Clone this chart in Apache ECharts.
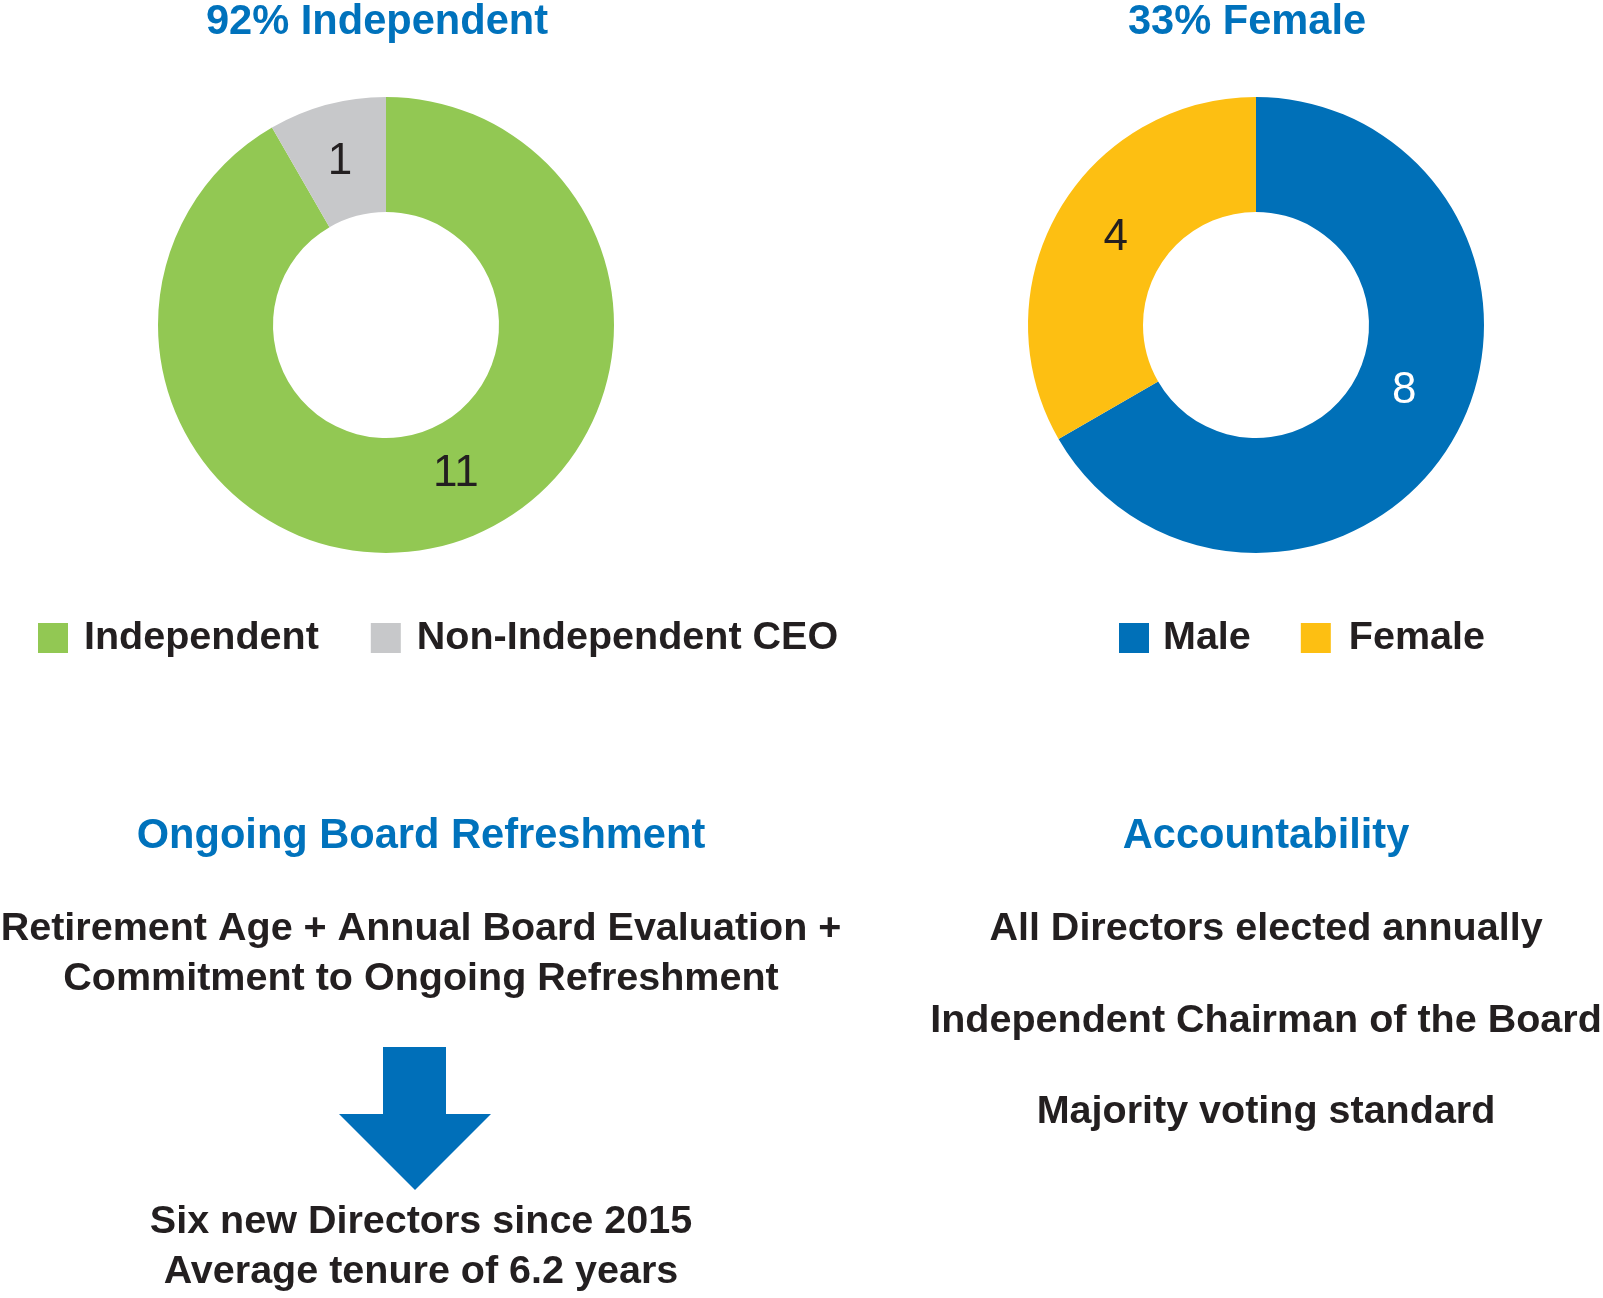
<!DOCTYPE html>
<html>
<head>
<meta charset="utf-8">
<style>
html,body{margin:0;padding:0;background:#fff;}
#main{width:1603px;height:1298px;}
</style>
<script src="https://cdn.jsdelivr.net/npm/echarts@6/dist/echarts.min.js"></script>
</head>
<body>
<div id="main"></div>
<script>
// ---- data ----
var independenceCategories = ['Independent', 'Non-Independent CEO'];
var independenceValues = [11, 1];
var genderCategories = ['Male', 'Female'];
var genderValues = [8, 4];
var chartTitles = ['92% Independent', '33% Female'];
var refreshmentHeading = 'Ongoing Board Refreshment';
var refreshmentLines = ['Retirement Age + Annual Board Evaluation +', 'Commitment to Ongoing Refreshment'];
var refreshmentResults = ['Six new Directors since 2015', 'Average tenure of 6.2 years'];
var accountabilityHeading = 'Accountability';
var accountabilityLines = ['All Directors elected annually', 'Independent Chairman of the Board', 'Majority voting standard'];

// ---- styles ----
var FONT = "'Liberation Sans', Arial, Helvetica, sans-serif";
var BLUE_TEXT = '#0072bc';
var DARK = '#231f20';
var independenceColors = ['#92c853', '#c7c8ca'];
var genderColors = ['#0070b8', '#fdbf12'];
var labelColors = [[DARK, DARK], ['#ffffff', DARK]];
var labelShift = [[[25, -19], [-1, 4]], [[-2, -21], [10, 0]]];
var legendPads = [[11, 11], [9, 13]];

function buildData(names, values, colors, sIdx) {
  return names.map(function (n, i) {
    return {
      name: n,
      value: values[i],
      itemStyle: { color: colors[i], borderWidth: 0 },
      label: { color: labelColors[sIdx][i] }
    };
  });
}

function pieSeries(names, values, colors, center, sIdx) {
  return {
    type: 'pie',
    center: center,
    radius: [113, 228],
    startAngle: 90,
    clockwise: true,
    avoidLabelOverlap: false,
    silent: true,
    animation: false,
    label: {
      show: true,
      position: 'inside',
      formatter: '{c}',
      fontFamily: FONT,
      fontSize: 44,
      fontWeight: 'normal'
    },
    labelLine: { show: false },
    labelLayout: function (p) {
      var s = labelShift[sIdx][p.dataIndex];
      return { dx: s[0], dy: s[1] };
    },
    emphasis: { disabled: true },
    data: buildData(names, values, colors, sIdx)
  };
}

function txt(x, y, s, size, color) {
  return {
    type: 'text',
    x: x, y: y,
    silent: true,
    style: {
      text: s,
      x: 0, y: 0,
      align: 'center',
      verticalAlign: 'middle',
      fontFamily: FONT,
      fontWeight: 'bold',
      fontSize: size,
      fill: color
    }
  };
}

function legendText(padLeft) {
  return {
    fontFamily: FONT, fontSize: 39.5, fontWeight: 'bold', color: DARK,
    padding: [0, 0, 0, padLeft]
  };
}

function legendData(names, lIdx) {
  return names.map(function (n, i) {
    return { name: n, textStyle: legendText(legendPads[lIdx][i]) };
  });
}

var HEAD = 41.6, BODY = 39.5;
var graphics = [
  txt(377, 23, chartTitles[0], HEAD, BLUE_TEXT),
  txt(1247, 23, chartTitles[1], HEAD, BLUE_TEXT),
  txt(421, 837, refreshmentHeading, HEAD, BLUE_TEXT),
  txt(1266, 837, accountabilityHeading, HEAD, BLUE_TEXT),
  txt(421, 929, refreshmentLines[0], BODY, DARK),
  txt(421, 979, refreshmentLines[1], BODY, DARK),
  txt(421, 1222, refreshmentResults[0], BODY, DARK),
  txt(421, 1272, refreshmentResults[1], BODY, DARK),
  txt(1266, 929, accountabilityLines[0], BODY, DARK),
  txt(1266, 1021, accountabilityLines[1], BODY, DARK),
  txt(1266, 1112, accountabilityLines[2], BODY, DARK),
  {
    type: 'polygon',
    silent: true,
    shape: {
      points: [[383, 1047], [446, 1047], [446, 1114], [491, 1114], [415, 1190], [339, 1114], [383, 1114]]
    },
    style: { fill: '#006fb9' }
  }
];

var chart = echarts.init(document.getElementById('main'), null, { renderer: 'canvas' });
chart.setOption({
  backgroundColor: '#ffffff',
  animation: false,
  legend: [
    {
      data: legendData(independenceCategories, 0),
      left: 38, top: 618,
      padding: 0,
      orient: 'horizontal',
      icon: 'rect',
      itemWidth: 30, itemHeight: 30,
      itemGap: 52,
      selectedMode: false,
      textStyle: legendText(11)
    },
    {
      data: legendData(genderCategories, 1),
      left: 1119, top: 618,
      padding: 0,
      orient: 'horizontal',
      icon: 'rect',
      itemWidth: 30, itemHeight: 30,
      itemGap: 50,
      selectedMode: false,
      textStyle: legendText(9)
    }
  ],
  series: [
    pieSeries(independenceCategories, independenceValues, independenceColors, [386, 325], 0),
    pieSeries(genderCategories, genderValues, genderColors, [1256, 325], 1)
  ],
  graphic: graphics
});
</script>
</body>
</html>
